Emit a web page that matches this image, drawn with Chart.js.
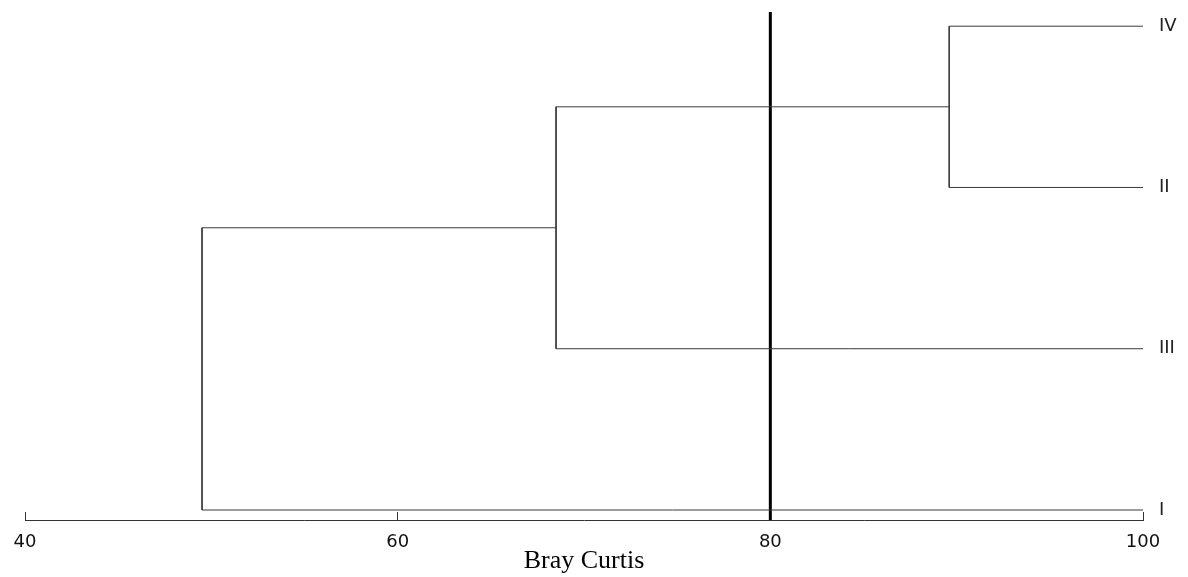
<!DOCTYPE html>
<html>
<head>
<meta charset="utf-8">
<script src="https://cdn.jsdelivr.net/npm/chart.js@4.4.1/dist/chart.umd.min.js"></script>
<style>
  html, body { margin: 0; padding: 0; background: #fff; }
  #wrap { width: 1188px; height: 577px; }
</style>
</head>
<body>
<div id="wrap"><canvas id="dendro"></canvas></div>
<script>
// leaves from bottom to top, similarity of a leaf = 100
var leafLabels = ['I', 'III', 'II', 'IV'];
var leafLevel = 100;
// merges: [child a, child b, similarity]
var mergeA = ['IV', 'IV+II', 'IV+II+III'];
var mergeB = ['II', 'III', 'I'];
var mergeLevel = [89.6, 68.5, 49.5];
var cutLevel = [80];
var xTicks = [40, 60, 80, 100];

var Y_MIN = -0.062, Y_MAX = 3.088;
var LINK = '#3a3a3a';

// build node positions from the merge list
var nodes = {};
leafLabels.forEach(function (l, i) { nodes[l] = { x: leafLevel, y: i }; });

var datasets = [];
mergeA.forEach(function (a, i) {
  var b = mergeB[i], h = mergeLevel[i];
  var na = nodes[a], nb = nodes[b];
  datasets.push({
    data: [
      { x: na.x, y: na.y }, { x: h, y: na.y },
      { x: h, y: nb.y }, { x: nb.x, y: nb.y }
    ],
    borderColor: LINK, borderWidth: 1, pointRadius: 0, showLine: true, fill: false
  });
  nodes[a + '+' + b] = { x: h, y: (na.y + nb.y) / 2 };
});

datasets.push({
  data: [{ x: cutLevel[0], y: Y_MIN }, { x: cutLevel[0], y: Y_MAX }],
  borderColor: '#000', borderWidth: 3, pointRadius: 0, showLine: true, fill: false
});

new Chart(document.getElementById('dendro'), {
  type: 'scatter',
  data: { datasets: datasets },
  options: {
    responsive: true, maintainAspectRatio: false, animation: false,
    layout: { padding: { left: 25, top: 12, right: 0, bottom: 0 } },
    plugins: { legend: { display: false }, tooltip: { enabled: false } },
    scales: {
      x: {
        type: 'linear', position: 'bottom', min: 40, max: 100,
        afterBuildTicks: function (s) { s.ticks = xTicks.map(function (v) { return { value: v }; }); },
        afterFit: function (s) { s.height = 57; s.paddingLeft = 0; s.paddingRight = 0; },
        border: { display: true, color: '#333', width: 1 },
        grid: { drawOnChartArea: false, drawTicks: true, tickLength: -8, color: '#333' },
        ticks: { padding: 20, color: '#111', font: { family: 'DejaVu Sans', size: 18 }, maxRotation: 0 },
        title: {
          display: true, text: 'Bray Curtis', color: '#000',
          font: { family: 'Liberation Serif', size: 26 }, padding: { top: 0, bottom: 0 }
        }
      },
      y: {
        type: 'linear', position: 'right', min: Y_MIN, max: Y_MAX,
        afterBuildTicks: function (s) { s.ticks = leafLabels.map(function (l, i) { return { value: i }; }); },
        afterFit: function (s) { s.width = 45; s.paddingTop = 0; s.paddingBottom = 0; },
        border: { display: false },
        grid: { display: false, drawTicks: false },
        ticks: {
          padding: 16, color: '#222', font: { family: 'DejaVu Sans', size: 18 },
          callback: function (v) { return leafLabels[v]; }
        }
      }
    }
  }
});
</script>
</body>
</html>
